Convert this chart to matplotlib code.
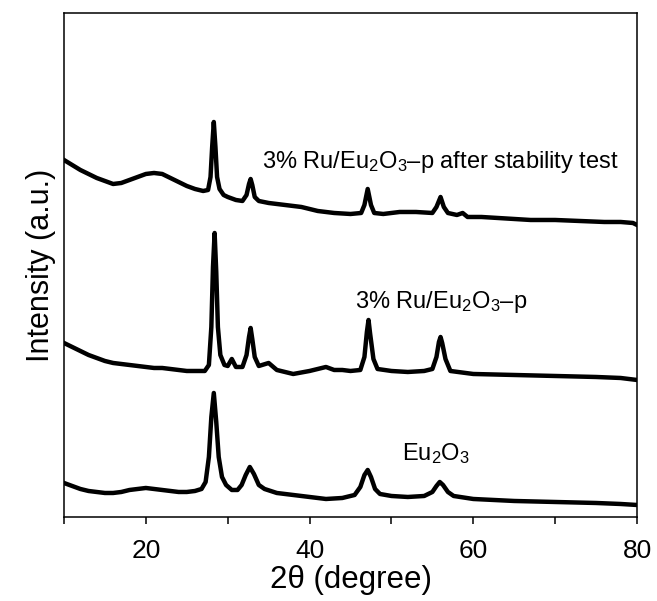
import matplotlib
matplotlib.use("Agg")
import matplotlib.pyplot as plt
import numpy as np

plt.rcParams['font.family'] = ['Liberation Sans', 'DejaVu Sans']
plt.rcParams['mathtext.fontset'] = 'custom'
plt.rcParams['mathtext.rm'] = 'Liberation Sans'
plt.rcParams['mathtext.default'] = 'regular'

# 3% Ru/Eu2O3-p after stability test
tt_stab = [10.0, 11.0, 12.0, 13.0, 14.0, 15.0, 16.0, 17.0, 18.0, 19.0, 20.0, 21.0, 22.0, 23.0,
           24.0, 25.0, 26.0, 27.0, 27.6, 27.9, 28.1, 28.3, 28.5, 28.7, 29.0, 29.5, 30.0, 31.0,
           31.8, 32.3, 32.6, 32.8, 33.0, 33.3, 33.8, 35.0, 37.0, 39.0, 41.0, 43.0, 45.0, 46.3,
           46.7, 47.1, 47.5, 47.9, 49.0, 51.0, 53.0, 55.0, 55.5, 56.0, 56.4, 56.9, 58.0, 58.7,
           59.3, 61.0, 63.0, 65.0, 67.0, 70.0, 73.0, 76.0, 78.0, 79.5, 80.0]
int_stab = [357, 352, 347, 343, 339, 336, 333, 334, 337, 340, 343, 344, 343, 339,
            335, 331, 328, 326, 327, 340, 370, 395, 370, 340, 328, 322, 320, 317,
            316, 322, 333, 338, 332, 320, 316, 314, 312, 310, 306, 304, 303, 304,
            312, 328, 312, 304, 303, 305, 305, 304, 310, 320, 310, 304, 302, 304,
            300, 300, 299, 298, 297, 297, 296, 295, 295, 294, 292]

# 3% Ru/Eu2O3-p
tt_ru = [10.0, 11.0, 12.0, 13.0, 14.0, 15.0, 16.0, 17.0, 18.0, 19.0, 20.0, 21.0, 22.0, 23.0,
         24.0, 25.0, 26.0, 27.2, 27.7, 28.0, 28.2, 28.4, 28.6, 28.8, 29.1, 29.6, 30.0, 30.5,
         31.0, 31.8, 32.3, 32.6, 32.8, 33.0, 33.3, 33.8, 35.0, 36.0, 38.0, 40.0, 42.0, 43.0,
         44.0, 45.0, 46.2, 46.7, 47.0, 47.2, 47.4, 47.8, 48.3, 50.0, 52.0, 54.0, 55.0, 55.5,
         55.8, 56.0, 56.2, 56.6, 57.2, 60.0, 65.0, 70.0, 75.0, 78.0, 80.0]
int_ru = [174, 170, 166, 162, 159, 156, 154, 153, 152, 151, 150, 149, 149, 148,
          147, 146, 146, 146, 152, 190, 250, 284, 245, 190, 162, 152, 151, 158,
          150, 150, 162, 180, 189, 178, 160, 151, 154, 147, 143, 146, 150, 147,
          147, 146, 147, 160, 185, 197, 183, 158, 148, 146, 145, 146, 148, 160,
          175, 180, 174, 158, 146, 143, 142, 141, 140, 139, 137]

# Eu2O3
tt_eu = [10.0, 11.0, 12.0, 13.0, 14.0, 15.0, 16.0, 17.0, 18.0, 19.0, 20.0, 21.0, 22.0, 23.0,
         24.0, 25.0, 26.0, 26.8, 27.3, 27.7, 28.0, 28.3, 28.6, 28.9, 29.3, 29.8, 30.5, 31.2,
         31.7, 32.2, 32.7, 33.2, 33.8, 34.5, 36.0, 38.0, 40.0, 42.0, 44.0, 45.5, 46.2, 46.7,
         47.1, 47.5, 48.0, 48.6, 50.0, 52.0, 54.0, 55.0, 55.5, 55.9, 56.3, 56.9, 57.6, 60.0,
         65.0, 70.0, 75.0, 78.0, 80.0]
int_eu = [34, 31, 28, 26, 25, 24, 24, 25, 27, 28, 29, 28, 27, 26,
          25, 25, 26, 28, 35, 60, 100, 124, 95, 60, 40, 32, 27, 27,
          32, 42, 50, 43, 32, 28, 24, 22, 20, 18, 19, 22, 30, 42,
          47, 40, 28, 23, 21, 20, 21, 25, 31, 35, 32, 25, 21, 18,
          16, 15, 14, 13, 12]

fig = plt.figure(figsize=(6.57, 6.01), dpi=100)
ax = fig.add_axes([0.0974, 0.1398, 0.8722, 0.8386])

for tt, inten in [(tt_stab, int_stab), (tt_ru, int_ru), (tt_eu, int_eu)]:
    ax.plot(tt, inten, color='black', lw=3.2, solid_joinstyle='round')

ax.text(34.2, 349, '3% Ru/Eu$_2$O$_3$\u2013p after stability test', fontsize=17, va='baseline')
ax.text(45.5, 209, '3% Ru/Eu$_2$O$_3$\u2013p', fontsize=17, va='baseline')
ax.text(51.3, 57, 'Eu$_2$O$_3$', fontsize=17, va='baseline')

ax.set_xlim(10, 80)
ax.set_ylim(0, 504)
ax.set_xticks(np.arange(10, 81, 10))
ax.set_xticklabels(['', '20', '', '40', '', '60', '', '80'])
ax.set_yticks([])
ax.tick_params(axis='x', direction='out', length=5, width=1.1, labelsize=19, pad=11)
for s in ax.spines.values():
    s.set_linewidth(1.1)

ax.set_xlabel('2\u03b8 (degree)', fontsize=22.5, labelpad=1)
ax.set_ylabel('Intensity (a.u.)', fontsize=22, labelpad=6)

fig.savefig('out.png', dpi=100)
